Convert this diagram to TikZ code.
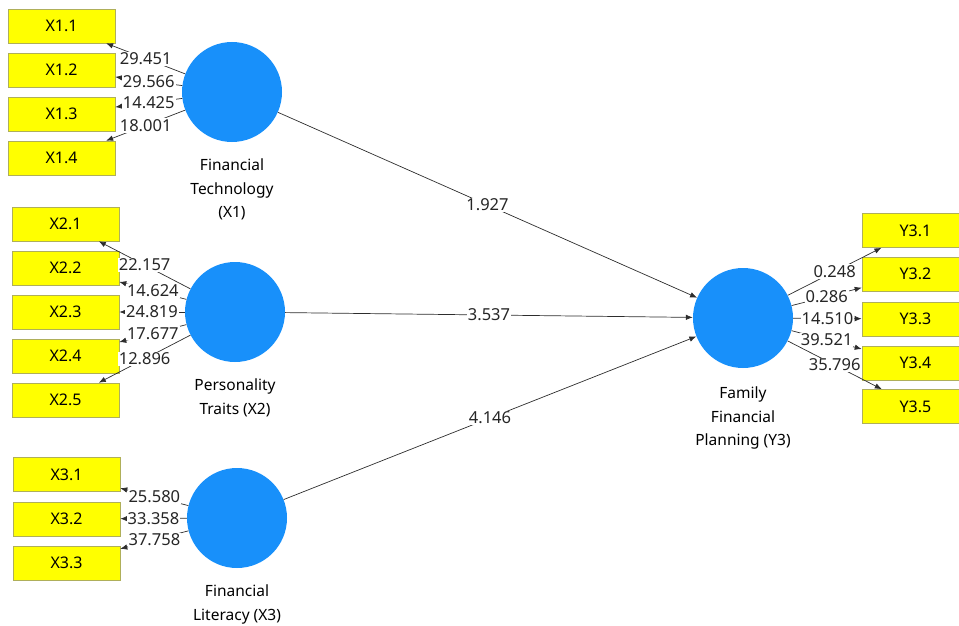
\documentclass[tikz,border=0pt]{standalone}
\usepackage{fontspec}
\setmainfont{Noto Sans}
\usetikzlibrary{arrows.meta}
\definecolor{lvblue}{RGB}{24,144,250}
\definecolor{mvyellow}{RGB}{255,255,0}
\definecolor{mvborder}{RGB}{175,175,90}
\definecolor{edgegray}{RGB}{45,45,45}
\begin{document}
\begin{tikzpicture}[x=1pt,y=-1pt,
  latent/.style={circle,fill=lvblue,draw=none,minimum size=100pt,inner sep=0pt},
  manifest/.style={rectangle,fill=mvyellow,draw=mvborder,line width=0.6pt,minimum width=107pt,minimum height=34pt,inner sep=0pt,font=\fontsize{16}{18}\selectfont},
  lvname/.style={anchor=north,align=center,inner sep=0pt,font=\fontsize{15.5}{23.5}\selectfont},
  edge/.style={draw=edgegray,line width=0.7pt,-{Latex[length=7pt,width=5.5pt]}},
  wt/.style={fill=white,inner sep=1pt,font=\fontsize{16.5}{18}\selectfont,text=black!85}
]
\useasboundingbox (0,0) rectangle (959,626);
\begin{scope}
\clip (0,0) rectangle (959,626);
% latent variables
\node[latent] (c1) at (232,92) {};
\node[latent] (c2) at (235,312) {};
\node[latent] (c3) at (237,518) {};
\node[latent] (cy) at (743,318) {};
% manifest variables
\node[manifest] (x11) at (61.5,26) {X1.1};
\node[manifest] (x12) at (61.5,70) {X1.2};
\node[manifest] (x13) at (61.5,114) {X1.3};
\node[manifest] (x14) at (61.5,158) {X1.4};
\node[manifest] (x21) at (65.5,224) {X2.1};
\node[manifest] (x22) at (65.5,268) {X2.2};
\node[manifest] (x23) at (65.5,312) {X2.3};
\node[manifest] (x24) at (65.5,356) {X2.4};
\node[manifest] (x25) at (65.5,400) {X2.5};
\node[manifest] (x31) at (66.5,474.5) {X3.1};
\node[manifest] (x32) at (66.5,519) {X3.2};
\node[manifest] (x33) at (66.5,563) {X3.3};
\node[manifest] (y31) at (915.5,230.5) {Y3.1};
\node[manifest] (y32) at (915.5,274) {Y3.2};
\node[manifest] (y33) at (915.5,319) {Y3.3};
\node[manifest] (y34) at (915.5,363) {Y3.4};
\node[manifest] (y35) at (915.5,406.5) {Y3.5};
\end{scope}
% names
\node[lvname] (n1) at (232,159) {Financial\\Technology\\(X1)};
\node[lvname] (n2) at (235,379) {Personality\\Traits (X2)};
\node[lvname] (n3) at (237,585) {Financial\\Literacy (X3)};
\node[lvname] (ny) at (743,387) {Family\\Financial\\Planning (Y3)};
% edges
\foreach \a/\b in {c1/x11,c1/x12,c1/x13,c1/x14,c2/x21,c2/x22,c2/x23,c2/x24,c2/x25,c3/x31,c3/x32,c3/x33,cy/y31,cy/y32,cy/y33,cy/y34,cy/y35,c1/cy,c2/cy,c3/cy}
  \draw[edge] (\a) -- (\b);
% weights
\path (c1) -- node[wt] {29.451} (x11);
\path (c1) -- node[wt] {29.566} (x12);
\path (c1) -- node[wt] {14.425} (x13);
\path (c1) -- node[wt] {18.001} (x14);
\path (c2) -- node[wt] {22.157} (x21);
\path (c2) -- node[wt] {14.624} (x22);
\path (c2) -- node[wt] {24.819} (x23);
\path (c2) -- node[wt] {17.677} (x24);
\path (c2) -- node[wt] {12.896} (x25);
\path (c3) -- node[wt] {25.580} (x31);
\path (c3) -- node[wt] {33.358} (x32);
\path (c3) -- node[wt] {37.758} (x33);
\path (cy) -- node[wt] {0.248} (y31);
\path (cy) -- node[wt] {0.286} (y32);
\path (cy) -- node[wt] {14.510} (y33);
\path (cy) -- node[wt] {39.521} (y34);
\path (cy) -- node[wt] {35.796} (y35);
\path (c1) -- node[wt] {1.927} (cy);
\path (c2) -- node[wt] {3.537} (cy);
\path (c3) -- node[wt] {4.146} (cy);
\end{tikzpicture}
\end{document}
